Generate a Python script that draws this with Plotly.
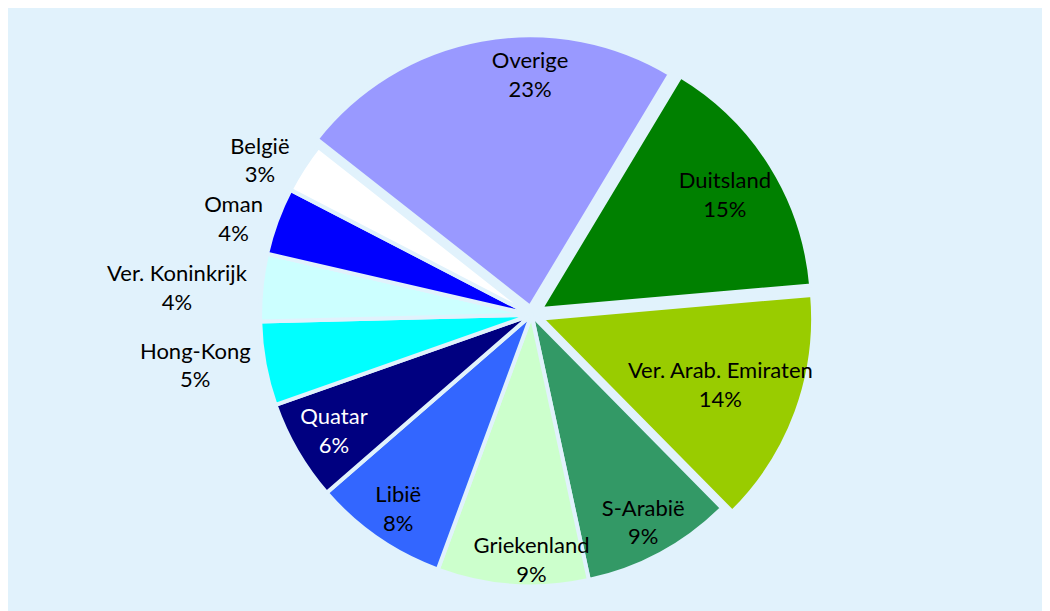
import plotly.graph_objects as go

labels = ["Duitsland", "Ver. Arab. Emiraten", "S-Arabië", "Griekenland", "Libië",
          "Quatar", "Hong-Kong", "Ver. Koninkrijk", "Oman", "België", "Overige"]
values = [15, 14, 9, 9, 8, 6, 5, 4, 4, 3, 23]
colors = ["#008000", "#99CC00", "#339966", "#CCFFCC", "#3366FF",
          "#000080", "#00FFFF", "#CCFFFF", "#0000FF", "#FFFFFF", "#9999FF"]
text_colors = ["black", "black", "black", "black", "black",
               "white", "black", "black", "black", "black", "black"]
positions = ["inside", "inside", "inside", "inside", "inside",
             "inside", "outside", "outside", "outside", "outside", "inside"]
pulls = [0.04, 0.04, 0, 0, 0, 0, 0, 0, 0, 0, 0.03]
# which transparent label ring carries each slice's data label (0 = near rim, 1 = middle, 2 = deep)
label_ring_of = [1, 2, 0, 0, 0, 1, 1, 1, 1, 1, 0]
ring_holes = [0.73, 0.60, 0.14]

BG = "#E1F2FC"
FONT = "Lato"
domain = dict(x=[0.2202, 0.7770], y=[0.0372, 0.9940])
LABEL_FMT = "%{label}<br>%{percent:.0%}"

common = dict(labels=labels, values=values, sort=False, direction="clockwise",
              rotation=31, pull=pulls, domain=domain, showlegend=False)

traces = [go.Pie(
    marker=dict(colors=colors, line=dict(color=BG, width=4)),
    textinfo="none",
    hoverinfo="label+percent",
    **common,
)]

for ring, hole in enumerate(ring_holes):
    traces.append(go.Pie(
        hole=hole,
        marker=dict(colors=["rgba(0,0,0,0)"] * len(labels), line=dict(width=0)),
        texttemplate=[LABEL_FMT if r == ring else "" for r in label_ring_of],
        textposition=positions,
        insidetextorientation="horizontal",
        textfont=dict(family=FONT, size=22, color=text_colors),
        hoverinfo="skip",
        **common,
    ))

fig = go.Figure(traces)

fig.update_layout(
    width=1050, height=611,
    margin=dict(l=0, r=0, t=0, b=0),
    paper_bgcolor=BG,
    plot_bgcolor=BG,
    font=dict(family=FONT, size=22, color="black"),
    uniformtext=dict(minsize=22, mode="show"),
)

fig.write_html("out.html")
